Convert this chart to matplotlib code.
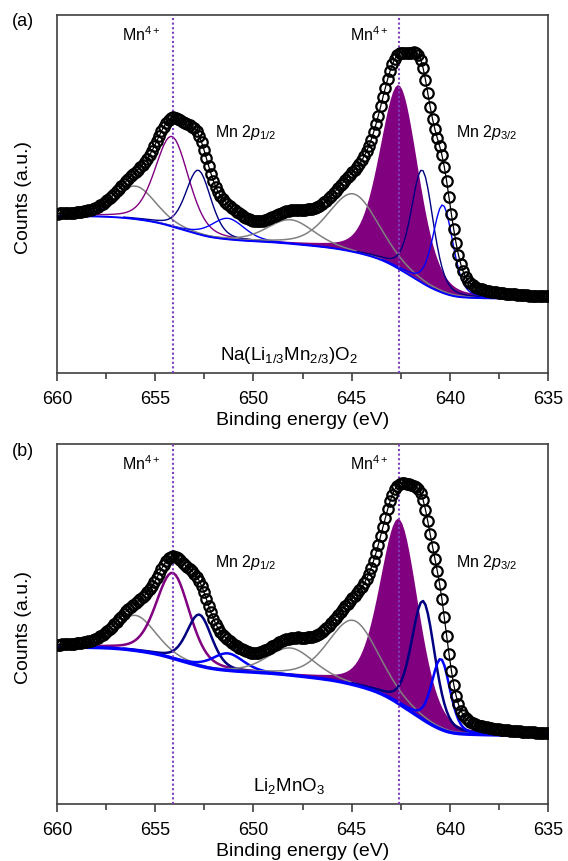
import numpy as np
import matplotlib
matplotlib.use('Agg')
from matplotlib import pyplot as plt
from matplotlib.ticker import MultipleLocator

plt.rcParams['font.family'] = ['Liberation Sans', 'DejaVu Sans']
plt.rcParams['mathtext.fontset'] = 'custom'
plt.rcParams['mathtext.rm'] = 'Liberation Sans'
plt.rcParams['mathtext.it'] = 'Liberation Sans:italic'

# binding energy grid of the scan (eV)
energy = np.arange(635.0, 660.01, 0.12)

# fitted components: centre (eV), height above background, FWHM (eV)
# (a) Na(Li1/3Mn2/3)O2
a_centre = [656.0, 654.15, 652.8, 651.3, 648.1, 644.9, 642.6, 641.4, 640.35]
a_height = [33, 90, 64, 21, 24, 58, 184, 113, 88]
a_fwhm = [2.4, 2.0, 1.5, 2.0, 2.8, 3.0, 2.3, 1.3, 1.2]
a_bg = [74, 157]   # background: low BE side, high BE side
# (b) Li2MnO3
b_centre = [656.0, 654.1, 652.75, 651.3, 648.1, 644.9, 642.6, 641.35, 640.45]
b_height = [35, 85, 51, 17, 27, 64, 184, 118, 70]
b_fwhm = [2.4, 2.0, 1.5, 1.9, 2.8, 3.0, 2.3, 1.4, 1.1]
b_bg = [68, 156]

comp_colors = ['#808080', '#800080', '#000080', '#0000FF',
               '#808080', '#808080', '#800080', '#000080', '#0000FF']
filled = 6          # shaded Mn4+ 2p3/2 component
mn4_pos = [654.1, 642.6]
eta = 0.3           # lorentzian fraction


def pvoigt(x, c, h, f):
    g = np.exp(-4 * np.log(2) * ((x - c) / f) ** 2)
    l = 1 / (1 + 4 * ((x - c) / f) ** 2)
    return h * ((1 - eta) * g + eta * l)


def panel(ax, centre, height, fwhm, bg_lev, name, lw, bglw):
    x = energy
    peaks = [pvoigt(x, c, h, f) for c, h, f in zip(centre, height, fwhm)]
    total = np.sum(peaks, axis=0)
    # shirley type background from cumulative peak area
    area = np.cumsum(total)
    bg = bg_lev[0] + (bg_lev[1] - bg_lev[0]) * area / area[-1]
    env = bg + total

    for i, p in enumerate(peaks):
        m = np.abs(x - centre[i]) < 2.6 * fwhm[i]
        if i == filled:
            ax.fill_between(x, bg, bg + p, color=comp_colors[i], lw=0, zorder=2)
        else:
            w = 1.1 if comp_colors[i] == '#808080' else lw
            ax.plot(x[m], (bg + p)[m], color=comp_colors[i], lw=w, zorder=3)
    ax.plot(x, bg, color='#0000FF', lw=bglw, zorder=4)
    for e in mn4_pos:
        ax.axvline(e, color='#7F3FBF', ls=(0, (1, 1.2)), lw=1.5, zorder=5)
    ax.plot(x, env, color='black', lw=0.9, zorder=6)
    ax.plot(x, env, 'o', mfc='none', mec='black', ms=7.5, mew=1.6, zorder=7)

    ax.set_xlim(660, 635)
    ax.set_ylim(0, 358)
    ax.set_yticks([])
    ax.xaxis.set_major_locator(MultipleLocator(5))
    ax.xaxis.set_minor_locator(MultipleLocator(2.5))
    ax.tick_params(axis='x', which='major', direction='out', length=6, width=1.2,
                   pad=7, labelsize=13, color='#404040')
    ax.tick_params(axis='x', which='minor', direction='out', length=4, width=1.2,
                   color='#404040')
    for s in ax.spines.values():
        s.set_color('#404040')
        s.set_linewidth(1.2)
    ax.set_xlabel('Binding energy (eV)', fontsize=14, labelpad=3)
    ax.set_ylabel('Counts (a.u.)', fontsize=14)
    ax.yaxis.set_label_coords(-0.05, 0.49)

    ax.text(655.7, 338, 'Mn$^{4+}$', fontsize=11.5, ha='center', va='center')
    ax.text(644.1, 338, 'Mn$^{4+}$', fontsize=11.5, ha='center', va='center')
    ax.text(651.95, 240, r'Mn 2$\it{p}$$_{1/2}$', fontsize=11.5, ha='left', va='center')
    ax.text(639.7, 240, r'Mn 2$\it{p}$$_{3/2}$', fontsize=11.5, ha='left', va='center')
    ax.text(648.2, 18, name, fontsize=13.5, ha='center', va='center')


fig = plt.figure(figsize=(5.68, 8.61), dpi=100)
ax1 = fig.add_axes([57 / 568, 1 - 373 / 861, 491 / 568, 358 / 861])
ax2 = fig.add_axes([57 / 568, 1 - 804 / 861, 491 / 568, 360 / 861])

panel(ax1, a_centre, a_height, a_fwhm, a_bg, r'Na(Li$_{1/3}$Mn$_{2/3}$)O$_2$', 1.0, 1.4)
panel(ax2, b_centre, b_height, b_fwhm, b_bg, r'Li$_2$MnO$_3$', 1.8, 2.4)
fig.text(23 / 568, 1 - 22 / 861, '(a)', fontsize=13, ha='center', va='center')
fig.text(23 / 568, 1 - 452 / 861, '(b)', fontsize=13, ha='center', va='center')

plt.savefig('out.png', dpi=100)
